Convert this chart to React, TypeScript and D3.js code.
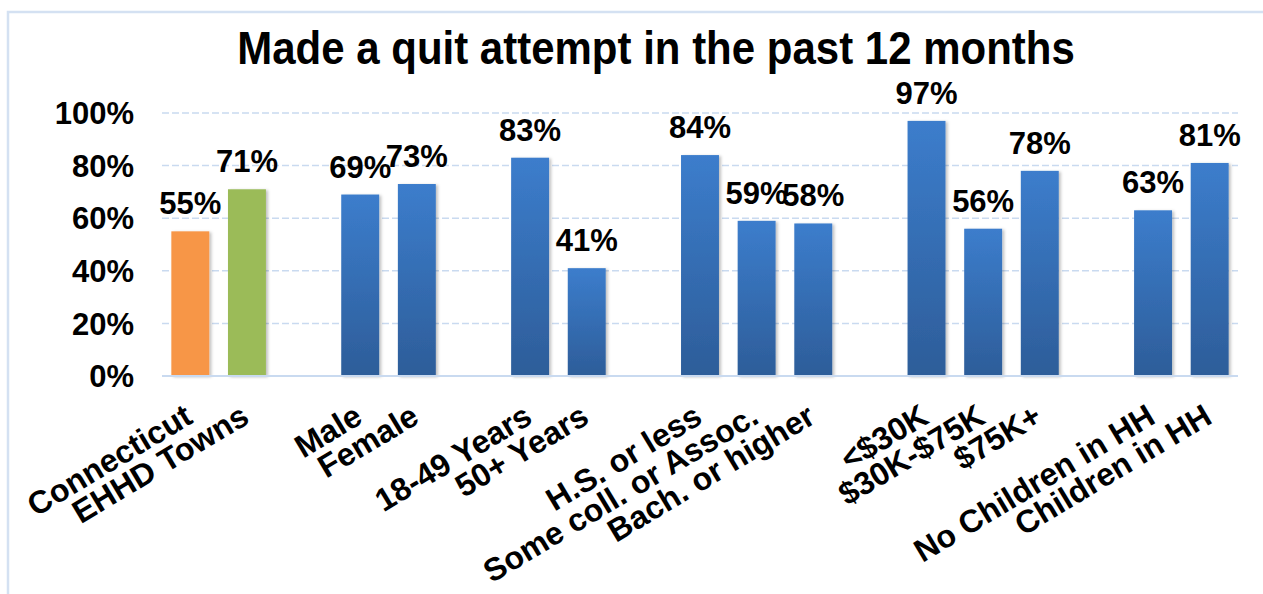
import React from "react";
import * as d3 from "d3";

// chart data (blank entries are the gaps between groups)
const categories = [
  "Connecticut", "EHHD Towns", "",
  "Male", "Female", "",
  "18-49 Years", "50+ Years", "",
  "H.S. or less", "Some coll. or Assoc.", "Bach. or higher", "",
  "<$30K", "$30K-$75K", "$75K+", "",
  "No Children in HH", "Children in HH",
];
const values = [55, 71, null, 69, 73, null, 83, 41, null, 84, 59, 58, null, 97, 56, 78, null, 63, 81];
const yTicks = [0, 20, 40, 60, 80, 100];
const title = "Made a quit attempt in the past 12 months";

const W = 1263;
const H = 594;
const FONT = "Liberation Sans, Arial, sans-serif";

export default function App() {
  const x = d3
    .scaleBand<number>()
    .domain(d3.range(categories.length))
    .range([162, 1238])
    .paddingInner(0.33)
    .paddingOuter(0.165);
  const y = d3.scaleLinear().domain([0, 100]).range([376, 113]);

  const fillFor = (i: number) =>
    i === 0 ? "#f79646" : i === 1 ? "#9bbb59" : "url(#blueGrad)";

  return (
    <svg
      width={W}
      height={H}
      style={{ position: "absolute", left: 0, top: 0, background: "#fff" }}
      fontFamily={FONT}
    >
      <defs>
        <linearGradient id="blueGrad" x1="0" y1="0" x2="0" y2="1">
          <stop offset="0%" stopColor="#3c7dcc" />
          <stop offset="100%" stopColor="#2d5d99" />
        </linearGradient>
        <filter id="shadow" x="-20%" y="-20%" width="140%" height="140%">
          <feDropShadow dx="2" dy="1" stdDeviation="1.5" floodColor="#000" floodOpacity="0.25" />
        </filter>
      </defs>

      {/* chart area border */}
      <path d={`M8,${H} V12 H${W}`} fill="none" stroke="#d4e1f2" strokeWidth={2.5} />

      {/* title */}
      <text
        transform={`translate(656,64) scale(1,1.12)`}
        textAnchor="middle"
        fontSize={42}
        fontWeight="bold"
        fill="#000"
      >
        {title}
      </text>

      {/* gridlines */}
      {yTicks.filter((t) => t > 0).map((t) => (
        <line
          key={t}
          x1={162}
          x2={1238}
          y1={y(t)}
          y2={y(t)}
          stroke="#c9daf0"
          strokeWidth={1.5}
          strokeDasharray="7,3"
        />
      ))}

      {/* y tick labels */}
      {yTicks.map((t) => (
        <text
          key={t}
          x={134}
          y={y(t)}
          dy="0.36em"
          textAnchor="end"
          fontSize={31}
          fontWeight="bold"
          fill="#000"
        >
          {t}%
        </text>
      ))}

      {/* bars */}
      <g filter="url(#shadow)">
        {values.map((v, i) =>
          v == null ? null : (
            <rect
              key={i}
              x={x(i)}
              y={y(v)}
              width={x.bandwidth()}
              height={y(0) - y(v)}
              fill={fillFor(i)}
            />
          )
        )}
      </g>

      {/* x axis line */}
      <line x1={162} x2={1238} y1={y(0)} y2={y(0)} stroke="#c9daf0" strokeWidth={2} />

      {/* data labels */}
      {values.map((v, i) =>
        v == null ? null : (
          <text
            key={i}
            x={(x(i) as number) + x.bandwidth() / 2}
            y={y(v) - 17}
            textAnchor="middle"
            fontSize={31}
            fontWeight="bold"
            fill="#000"
          >
            {v}%
          </text>
        )
      )}

      {/* category labels */}
      {categories.map((c, i) =>
        c === "" ? null : (
          <text
            key={i}
            transform={`translate(${(x(i) as number) + x.bandwidth() / 2 + 4},${y(0) + 46}) rotate(-31)`}
            textAnchor="end"
            fontSize={32}
            fontWeight="bold"
            fill="#000"
          >
            {c}
          </text>
        )
      )}
    </svg>
  );
}
